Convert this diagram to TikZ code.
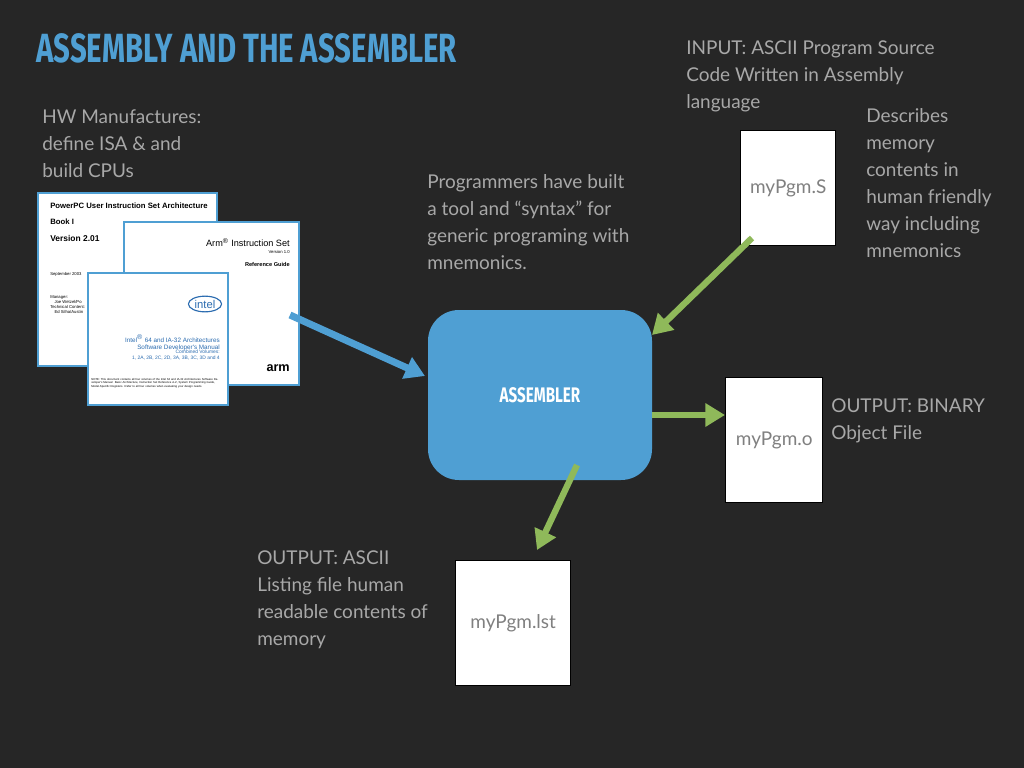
\documentclass[tikz,border=0pt]{standalone}
\usepackage{fontspec}
\setmainfont{Lato}
\newfontfamily\titlefont[FakeStretch=0.72]{Fira Sans Bold}
\newfontfamily\docfont{Liberation Sans}
\usetikzlibrary{arrows.meta, positioning, shapes.geometric}
\definecolor{bgdark}{HTML}{262626}
\definecolor{slideblue}{HTML}{4F9FD3}
\definecolor{slidegray}{HTML}{A8A8A8}
\definecolor{slidegreen}{HTML}{8FB95A}
\definecolor{intelblue}{HTML}{2B6CB0}
\begin{document}
\begin{tikzpicture}[x=0.025cm, y=-0.025cm,
    note/.style={anchor=north west, align=left, text=slidegray, inner sep=0pt,
      font=\fontsize{13.5pt}{19.2pt}\selectfont},
    page/.style={draw=slideblue, line width=1.5pt, fill=white, anchor=north west, inner sep=0pt},
    file/.style={draw=black, line width=1pt, fill=white, anchor=north west, inner sep=0pt},
    filelabel/.style={text=gray, font=\fontsize{13.5pt}{16pt}\selectfont},
    bluearrow/.style={-{Triangle[length=14pt,width=16pt]}, slideblue, line width=5pt},
    greenarrow/.style={-{Triangle[length=14pt,width=16pt]}, slidegreen, line width=4.5pt},
    tiny/.style={font=\docfont\fontsize{3pt}{3.6pt}\selectfont, inner sep=0pt, anchor=north west, align=left}
]
    \fill[bgdark] (0,0) rectangle (1024,768);
    \useasboundingbox (0,0) rectangle (1024,768);

    % Title
    \node[anchor=west, text=slideblue, font=\titlefont\fontsize{29pt}{30pt}\selectfont, inner sep=0pt] (title) at (36,48) {ASSEMBLY AND THE ASSEMBLER};

    % Manufacturers side
    \node[note] (hwtext) at (42,109) {HW Manufactures:\\define ISA \& and\\build CPUs};
    \node[page, minimum width=179*0.025cm, minimum height=173*0.025cm] (ppc) at (37,192) {};
    \node[tiny, font=\docfont\bfseries\fontsize{5.5pt}{6pt}\selectfont] (ppct) at (50,203) {PowerPC User Instruction Set Architecture};
    \node[tiny, font=\docfont\bfseries\fontsize{5.5pt}{6pt}\selectfont] (ppcb) at (50,219) {Book I};
    \node[tiny, font=\docfont\bfseries\fontsize{6pt}{6pt}\selectfont] (ppcv) at (50,235) {Version 2.01};
    \node[tiny] (ppcd) at (50,272) {September 2003};
    \node[tiny] (ppcm) at (50,295) {Manager:\\\quad Joe Wetzel/Po\\Technical Content:\\\quad Ed Silha/Austin};
    \node[page, minimum width=175*0.025cm, minimum height=163*0.025cm] (armpg) at (123,221) {};
    \node[anchor=north east, inner sep=0pt, font=\docfont\fontsize{6.5pt}{7pt}\selectfont] (armt) at (290,238) {Arm\textsuperscript{\tiny\textregistered} Instruction Set};
    \node[anchor=north east, inner sep=0pt, font=\docfont\fontsize{3pt}{4pt}\selectfont] (armver) at (290,250) {Version 1.0};
    \node[anchor=north east, inner sep=0pt, font=\docfont\bfseries\fontsize{4pt}{5pt}\selectfont] (armr) at (290,262) {Reference Guide};
    \node[anchor=south east, inner sep=0pt, font=\docfont\bfseries\fontsize{9pt}{9pt}\selectfont] (armlogo) at (290,372) {arm};
    \node[page, minimum width=140*0.025cm, minimum height=132*0.025cm] (intelpg) at (87,272) {};
    \node[draw=intelblue, ellipse, line width=0.8pt, inner sep=1pt, text=intelblue, font=\docfont\fontsize{8pt}{8pt}\selectfont] (intellogo) at (205,304) {intel};
    \node[anchor=north east, inner sep=0pt, align=right, text=intelblue, font=\docfont\fontsize{4.5pt}{5.2pt}\selectfont] (intelt) at (220,334) {Intel\textsuperscript{\tiny\textregistered} 64 and IA-32 Architectures\\Software Developer's Manual};
    \node[anchor=north east, inner sep=0pt, align=right, text=intelblue, font=\docfont\fontsize{3.5pt}{4.2pt}\selectfont] (intelv) at (220,350) {Combined Volumes:\\1, 2A, 2B, 2C, 2D, 3A, 3B, 3C, 3D and 4};
    \node[tiny, text width=128*0.025cm, font=\docfont\fontsize{2pt}{2.5pt}\selectfont] (intelnote) at (91,378) {NOTE: This document contains all four volumes of the Intel 64 and IA-32 Architectures Software Developer's Manual: Basic Architecture, Instruction Set Reference A-Z, System Programming Guide, Model-Specific Registers. Refer to all four volumes when evaluating your design needs.};

    % Assembler
    \node[note] (progtext) at (427,174) {Programmers have built\\a tool and ``syntax'' for\\generic programing with\\mnemonics.};
    \node[fill=slideblue, rounded corners=22pt, minimum width=224*0.025cm, minimum height=170*0.025cm,
      text=white, font=\titlefont\fontsize{15pt}{16pt}\selectfont] (asm) at (540,395) {ASSEMBLER};

    % Files
    \node[note] (intext) at (686,40) {INPUT: ASCII Program Source\\Code Written in Assembly\\language};
    \node[note] (desctext) at (866,108) {Describes\\memory\\contents in\\human friendly\\way including\\mnemonics};
    \node[file, minimum width=95*0.025cm, minimum height=115*0.025cm] (srcfile) at (740,130) {};
    \node[filelabel] (srclbl) at (srcfile.center) {myPgm.S};
    \node[file, minimum width=97*0.025cm, minimum height=125*0.025cm] (objfile) at (725,377) {};
    \node[filelabel] (objlbl) at (objfile.center) {myPgm.o};
    \node[note] (outbin) at (831,398) {OUTPUT: BINARY\\Object File};
    \node[file, minimum width=115*0.025cm, minimum height=125*0.025cm] (lstfile) at (455,560) {};
    \node[filelabel] (lstlbl) at (lstfile.center) {myPgm.lst};
    \node[note] (outasc) at (257,550) {OUTPUT: ASCII\\Listing file human\\readable contents of\\memory};

    % Arrows
    \coordinate (docsout) at (290,315);
    \coordinate (asmin) at (425,376);
    \draw[bluearrow] (docsout) -- (asmin);
    \coordinate (srcout) at (752,238);
    \coordinate (asmtop) at (652,335);
    \draw[greenarrow] (srcout) -- (asmtop);
    \coordinate (asmright) at (652,415);
    \draw[greenarrow] (asmright) -- (objfile.west |- asmright);
    \coordinate (asmbottom) at (577,465);
    \coordinate (lsttop) at (537,550);
    \draw[greenarrow] (asmbottom) -- (lsttop);
\end{tikzpicture}
\end{document}
